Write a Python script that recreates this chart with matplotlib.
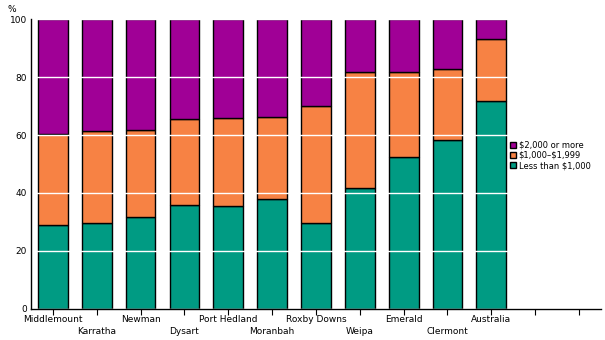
import matplotlib
matplotlib.use("Agg")
import matplotlib.pyplot as plt
import numpy as np

towns = ["Middlemount", "Karratha", "Newman", "Dysart", "Port Hedland", "Moranbah",
         "Roxby Downs", "Weipa", "Emerald", "Clermont", "Australia", "", ""]
less_1000 = [28.8, 29.6, 31.7, 35.7, 35.4, 37.8, 29.6, 41.7, 52.5, 58.2, 71.8]
mid_1000_1999 = [31.4, 31.9, 30.0, 29.8, 30.4, 28.5, 40.4, 40.2, 29.4, 24.8, 21.4]
over_2000 = [39.8, 38.5, 38.3, 34.5, 34.2, 33.7, 30.0, 18.1, 18.1, 17.0, 6.8]

teal = "#009B83"
orange = "#F78244"
purple = "#A00096"

plt.rcParams["font.family"] = "DejaVu Sans"
plt.rcParams["font.size"] = 6.5

fig = plt.figure(figsize=(6.05, 3.4), dpi=100)
ax = fig.add_axes([0.0512, 0.0926, 0.942, 0.8504])

x = np.arange(len(less_1000))
w = 0.68
lo = np.array(less_1000)
mid = np.array(mid_1000_1999)
hi = np.array(over_2000)
b1 = ax.bar(x, lo, w, color=teal, edgecolor="black", linewidth=1.0, label="Less than \\$1,000")
b2 = ax.bar(x, mid, w, bottom=lo, color=orange, edgecolor="black", linewidth=1.0, label="\\$1,000–\\$1,999")
b3 = ax.bar(x, hi, w, bottom=lo + mid, color=purple, edgecolor="black", linewidth=1.0, label="\\$2,000 or more")

ax.set_xlim(-0.5, len(towns) - 0.5)
ax.set_ylim(0, 100)
ax.set_yticks([0, 20, 40, 60, 80, 100])
ax.set_xticks(range(len(towns)))
ax.set_xticklabels(towns)
ax.tick_params(axis="x", length=4, width=0.8, pad=1)
ax.tick_params(axis="y", length=0, pad=3)
# stagger the town names over two rows
for i, tick in enumerate(ax.xaxis.get_major_ticks()):
    if i % 2 == 1:
        tick.set_pad(9.5)

ax.set_axisbelow(False)
ax.yaxis.grid(True, color="white", linewidth=1.0)
for s in ["top", "right"]:
    ax.spines[s].set_visible(False)
ax.spines["left"].set_linewidth(1.0)
ax.spines["bottom"].set_linewidth(1.0)
ax.spines["left"].set_zorder(5)

fig.text(0.012, 0.965, "%", fontsize=6.5)

ax.legend(handles=[b3, b2, b1], loc="center left", bbox_to_anchor=(0.828, 0.53),
          frameon=False, handlelength=0.7, handleheight=0.7, handletextpad=0.3,
          labelspacing=0.15, fontsize=6)

fig.savefig("out.png", dpi=100)
